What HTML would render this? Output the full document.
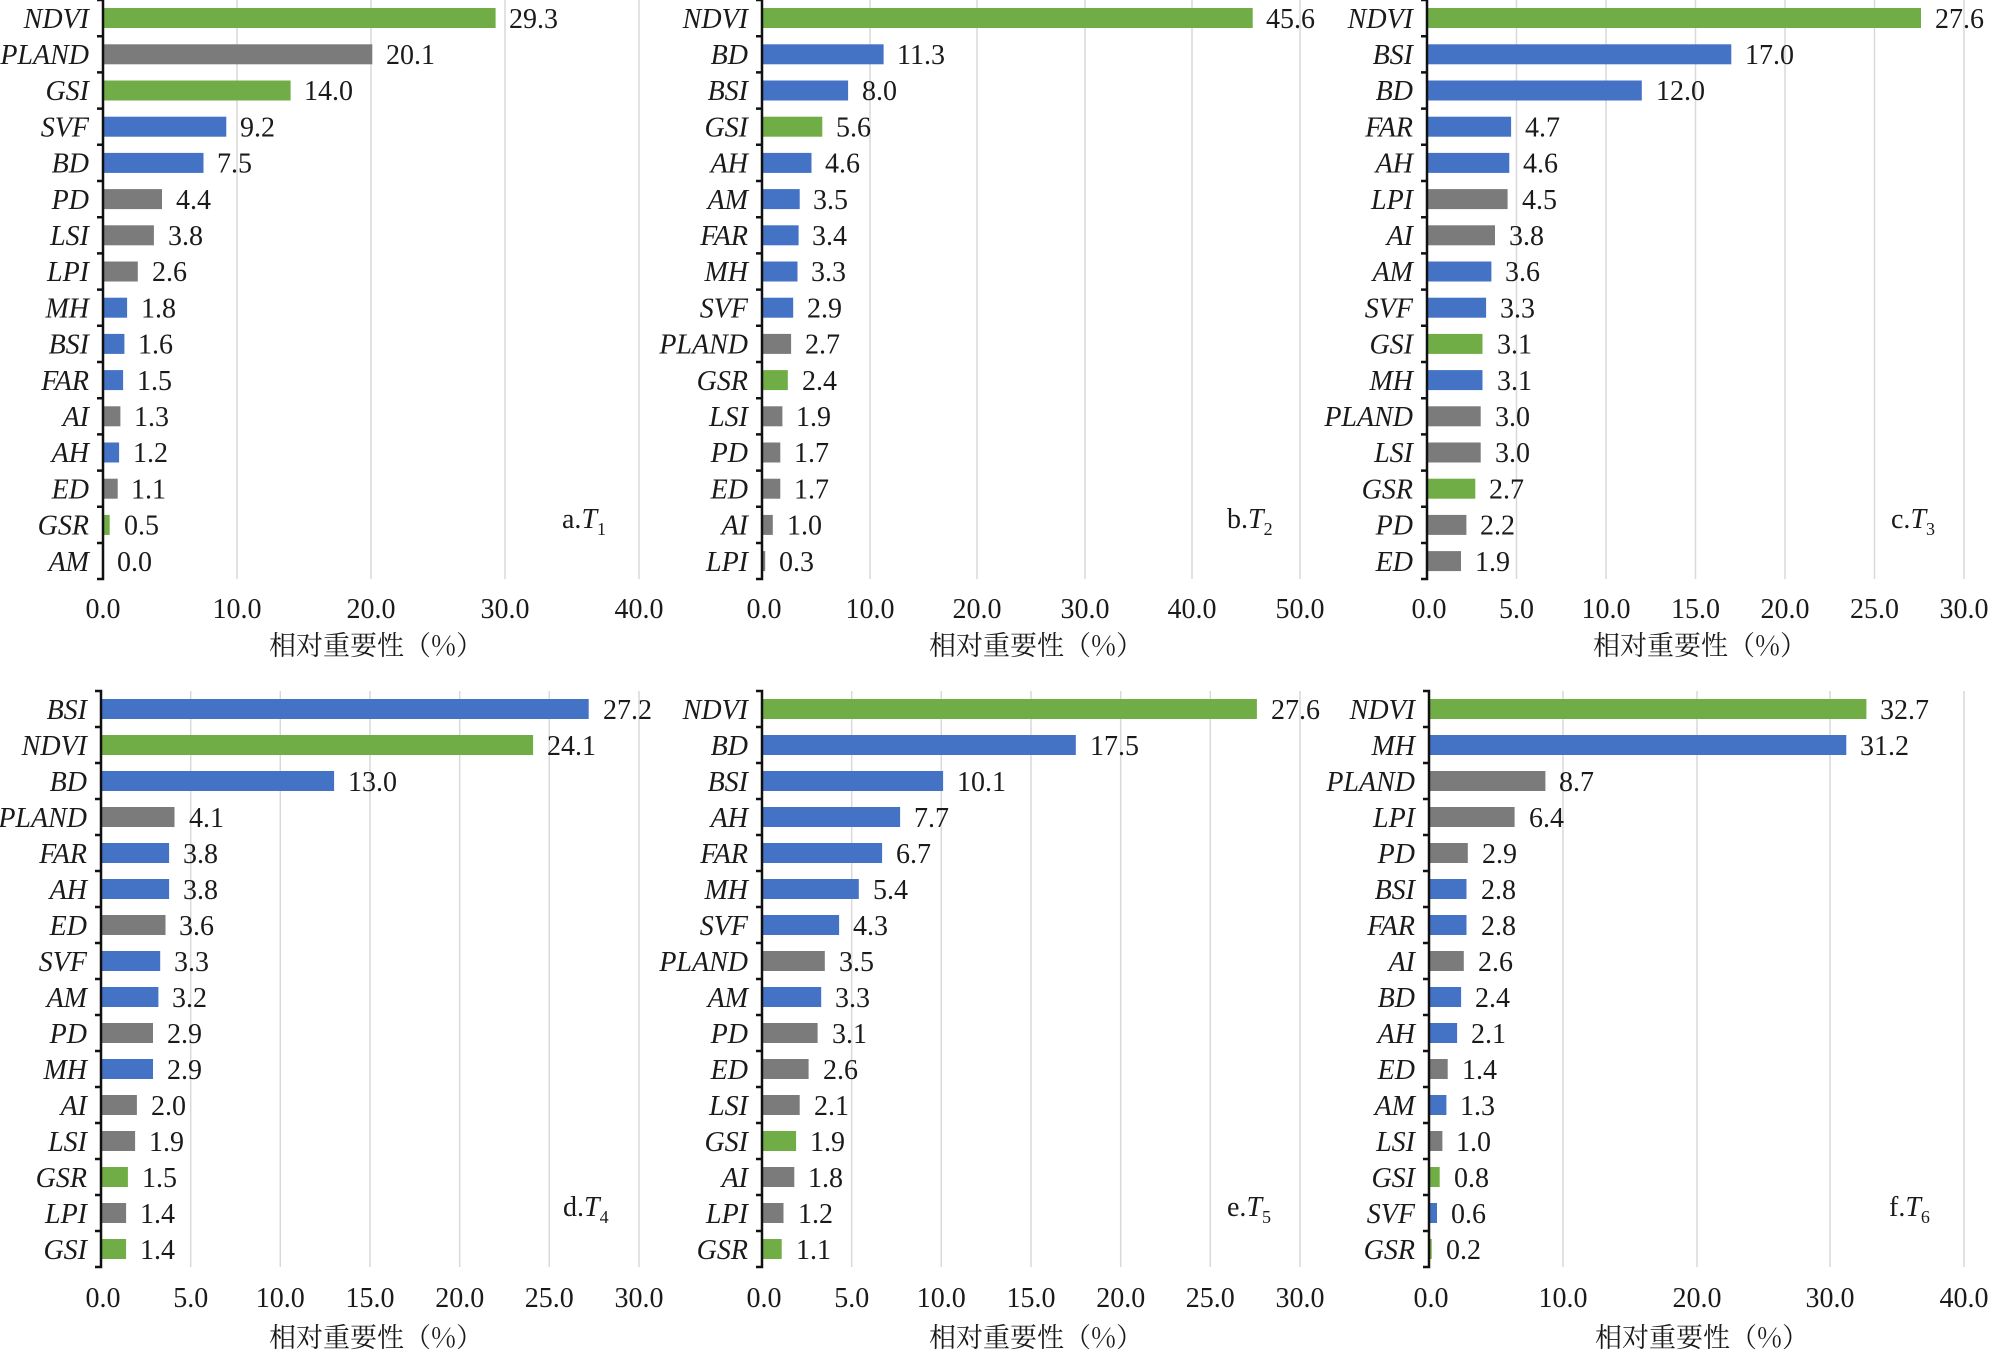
<!DOCTYPE html>
<html><head><meta charset="utf-8"><style>
html,body{margin:0;padding:0;background:#fff;}
svg{display:block}
text{font-family:"Liberation Serif","Noto Serif CJK SC",serif;font-size:28px;fill:#1a1a1a}
.c{font-style:italic;text-anchor:end}
.t{text-anchor:middle}
.g{fill:#70ad47}.b{fill:#4472c4}.k{fill:#7b7b7b}
.gr{stroke:#d9d9d9;stroke-width:1.5}
.ax{stroke:#111;stroke-width:2.5;fill:none}
.ti{font-family:"Noto Serif CJK SC","Liberation Serif",serif;font-size:27px;text-anchor:middle}
</style></head><body>
<svg width="1997" height="1355" viewBox="0 0 1997 1355" xmlns="http://www.w3.org/2000/svg">

<!-- ===== Panel a ===== -->
<g>
<line class="gr" x1="237" y1="0" x2="237" y2="579"/><line class="gr" x1="371" y1="0" x2="371" y2="579"/><line class="gr" x1="505" y1="0" x2="505" y2="579"/><line class="gr" x1="639" y1="0" x2="639" y2="579"/>
<g transform="translate(103,0)">
<rect class="g" x="0" y="8" width="392.6" height="20"/><text x="406" y="28">29.3</text><text class="c" x="-14" y="28">NDVI</text>
<rect class="k" x="0" y="44.3" width="269.3" height="20"/><text x="283" y="64">20.1</text><text class="c" x="-14" y="64">PLAND</text>
<rect class="g" x="0" y="80.5" width="187.6" height="20"/><text x="201" y="100">14.0</text><text class="c" x="-14" y="100">GSI</text>
<rect class="b" x="0" y="116.7" width="123.3" height="20"/><text x="137" y="136.5">9.2</text><text class="c" x="-14" y="136.5">SVF</text>
<rect class="b" x="0" y="152.9" width="100.5" height="20"/><text x="114" y="172.5">7.5</text><text class="c" x="-14" y="172.5">BD</text>
<rect class="k" x="0" y="189.1" width="59" height="20"/><text x="73" y="209">4.4</text><text class="c" x="-14" y="209">PD</text>
<rect class="k" x="0" y="225.3" width="50.9" height="20"/><text x="65" y="245">3.8</text><text class="c" x="-14" y="245">LSI</text>
<rect class="k" x="0" y="261.5" width="34.8" height="20"/><text x="49" y="281">2.6</text><text class="c" x="-14" y="281">LPI</text>
<rect class="b" x="0" y="297.7" width="24.1" height="20"/><text x="38" y="317.5">1.8</text><text class="c" x="-14" y="317.5">MH</text>
<rect class="b" x="0" y="333.9" width="21.4" height="20"/><text x="35" y="353.5">1.6</text><text class="c" x="-14" y="353.5">BSI</text>
<rect class="b" x="0" y="370.1" width="20.1" height="20"/><text x="34" y="390">1.5</text><text class="c" x="-14" y="390">FAR</text>
<rect class="k" x="0" y="406.3" width="17.4" height="20"/><text x="31" y="426">1.3</text><text class="c" x="-14" y="426">AI</text>
<rect class="b" x="0" y="442.5" width="16.1" height="20"/><text x="30" y="462">1.2</text><text class="c" x="-14" y="462">AH</text>
<rect class="k" x="0" y="478.7" width="14.7" height="20"/><text x="28" y="498.5">1.1</text><text class="c" x="-14" y="498.5">ED</text>
<rect class="g" x="0" y="514.9" width="6.7" height="20"/><text x="21" y="534.5">0.5</text><text class="c" x="-14" y="534.5">GSR</text>
<text x="14" y="571">0.0</text><text class="c" x="-14" y="571">AM</text>
<path class="ax" d="M-6,0H0V579H-6 M-6,36.2H0 M-6,72.4H0 M-6,108.6H0 M-6,144.8H0 M-6,181H0 M-6,217.2H0 M-6,253.4H0 M-6,289.6H0 M-6,325.8H0 M-6,362H0 M-6,398.2H0 M-6,434.4H0 M-6,470.6H0 M-6,506.8H0 M-6,543H0"/>
</g>
<text class="t" x="103" y="618">0.0</text><text class="t" x="237" y="618">10.0</text><text class="t" x="371" y="618">20.0</text><text class="t" x="505" y="618">30.0</text><text class="t" x="639" y="618">40.0</text>
<text class="ti" x="376" y="655">相对重要性（%）</text>
<text x="562" y="528">a.<tspan font-style="italic">T</tspan><tspan font-size="18" dy="7">1</tspan></text>
</g>

<!-- ===== Panel b ===== -->
<g>
<line class="gr" x1="870" y1="0" x2="870" y2="579"/><line class="gr" x1="977" y1="0" x2="977" y2="579"/><line class="gr" x1="1085" y1="0" x2="1085" y2="579"/><line class="gr" x1="1192" y1="0" x2="1192" y2="579"/><line class="gr" x1="1300" y1="0" x2="1300" y2="579"/>
<g transform="translate(762,0)">
<rect class="g" x="0" y="8" width="490.7" height="20"/><text x="504" y="28">45.6</text><text class="c" x="-14" y="28">NDVI</text>
<rect class="b" x="0" y="44.3" width="121.6" height="20"/><text x="135" y="64">11.3</text><text class="c" x="-14" y="64">BD</text>
<rect class="b" x="0" y="80.5" width="86.1" height="20"/><text x="100" y="100">8.0</text><text class="c" x="-14" y="100">BSI</text>
<rect class="g" x="0" y="116.7" width="60.3" height="20"/><text x="74" y="136.5">5.6</text><text class="c" x="-14" y="136.5">GSI</text>
<rect class="b" x="0" y="152.9" width="49.5" height="20"/><text x="63" y="172.5">4.6</text><text class="c" x="-14" y="172.5">AH</text>
<rect class="b" x="0" y="189.1" width="37.7" height="20"/><text x="51" y="209">3.5</text><text class="c" x="-14" y="209">AM</text>
<rect class="b" x="0" y="225.3" width="36.6" height="20"/><text x="50" y="245">3.4</text><text class="c" x="-14" y="245">FAR</text>
<rect class="b" x="0" y="261.5" width="35.5" height="20"/><text x="49" y="281">3.3</text><text class="c" x="-14" y="281">MH</text>
<rect class="b" x="0" y="297.7" width="31.2" height="20"/><text x="45" y="317.5">2.9</text><text class="c" x="-14" y="317.5">SVF</text>
<rect class="k" x="0" y="333.9" width="29.1" height="20"/><text x="43" y="353.5">2.7</text><text class="c" x="-14" y="353.5">PLAND</text>
<rect class="g" x="0" y="370.1" width="25.8" height="20"/><text x="40" y="390">2.4</text><text class="c" x="-14" y="390">GSR</text>
<rect class="k" x="0" y="406.3" width="20.4" height="20"/><text x="34" y="426">1.9</text><text class="c" x="-14" y="426">LSI</text>
<rect class="k" x="0" y="442.5" width="18.3" height="20"/><text x="32" y="462">1.7</text><text class="c" x="-14" y="462">PD</text>
<rect class="k" x="0" y="478.7" width="18.3" height="20"/><text x="32" y="498.5">1.7</text><text class="c" x="-14" y="498.5">ED</text>
<rect class="k" x="0" y="514.9" width="10.8" height="20"/><text x="25" y="534.5">1.0</text><text class="c" x="-14" y="534.5">AI</text>
<rect class="k" x="0" y="551.1" width="3.2" height="20"/><text x="17" y="571">0.3</text><text class="c" x="-14" y="571">LPI</text>
<path class="ax" d="M-6,0H0V579H-6 M-6,36.2H0 M-6,72.4H0 M-6,108.6H0 M-6,144.8H0 M-6,181H0 M-6,217.2H0 M-6,253.4H0 M-6,289.6H0 M-6,325.8H0 M-6,362H0 M-6,398.2H0 M-6,434.4H0 M-6,470.6H0 M-6,506.8H0 M-6,543H0"/>
</g>
<text class="t" x="764" y="618">0.0</text><text class="t" x="870" y="618">10.0</text><text class="t" x="977" y="618">20.0</text><text class="t" x="1085" y="618">30.0</text><text class="t" x="1192" y="618">40.0</text><text class="t" x="1300" y="618">50.0</text>
<text class="ti" x="1036" y="655">相对重要性（%）</text>
<text x="1227" y="528">b.<tspan font-style="italic">T</tspan><tspan font-size="18" dy="7">2</tspan></text>
</g>

<!-- ===== Panel c ===== -->
<g>
<line class="gr" x1="1516.5" y1="0" x2="1516.5" y2="579"/><line class="gr" x1="1606" y1="0" x2="1606" y2="579"/><line class="gr" x1="1695.5" y1="0" x2="1695.5" y2="579"/><line class="gr" x1="1785" y1="0" x2="1785" y2="579"/><line class="gr" x1="1874.5" y1="0" x2="1874.5" y2="579"/><line class="gr" x1="1964" y1="0" x2="1964" y2="579"/>
<g transform="translate(1427,0)">
<rect class="g" x="0" y="8" width="494" height="20"/><text x="508" y="28">27.6</text><text class="c" x="-14" y="28">NDVI</text>
<rect class="b" x="0" y="44.3" width="304.3" height="20"/><text x="318" y="64">17.0</text><text class="c" x="-14" y="64">BSI</text>
<rect class="b" x="0" y="80.5" width="214.8" height="20"/><text x="229" y="100">12.0</text><text class="c" x="-14" y="100">BD</text>
<rect class="b" x="0" y="116.7" width="84.1" height="20"/><text x="98" y="136.5">4.7</text><text class="c" x="-14" y="136.5">FAR</text>
<rect class="b" x="0" y="152.9" width="82.3" height="20"/><text x="96" y="172.5">4.6</text><text class="c" x="-14" y="172.5">AH</text>
<rect class="k" x="0" y="189.1" width="80.6" height="20"/><text x="95" y="209">4.5</text><text class="c" x="-14" y="209">LPI</text>
<rect class="k" x="0" y="225.3" width="68" height="20"/><text x="82" y="245">3.8</text><text class="c" x="-14" y="245">AI</text>
<rect class="b" x="0" y="261.5" width="64.4" height="20"/><text x="78" y="281">3.6</text><text class="c" x="-14" y="281">AM</text>
<rect class="b" x="0" y="297.7" width="59.1" height="20"/><text x="73" y="317.5">3.3</text><text class="c" x="-14" y="317.5">SVF</text>
<rect class="g" x="0" y="333.9" width="55.5" height="20"/><text x="70" y="353.5">3.1</text><text class="c" x="-14" y="353.5">GSI</text>
<rect class="b" x="0" y="370.1" width="55.5" height="20"/><text x="70" y="390">3.1</text><text class="c" x="-14" y="390">MH</text>
<rect class="k" x="0" y="406.3" width="53.7" height="20"/><text x="68" y="426">3.0</text><text class="c" x="-14" y="426">PLAND</text>
<rect class="k" x="0" y="442.5" width="53.7" height="20"/><text x="68" y="462">3.0</text><text class="c" x="-14" y="462">LSI</text>
<rect class="g" x="0" y="478.7" width="48.3" height="20"/><text x="62" y="498.5">2.7</text><text class="c" x="-14" y="498.5">GSR</text>
<rect class="k" x="0" y="514.9" width="39.4" height="20"/><text x="53" y="534.5">2.2</text><text class="c" x="-14" y="534.5">PD</text>
<rect class="k" x="0" y="551.1" width="34" height="20"/><text x="48" y="571">1.9</text><text class="c" x="-14" y="571">ED</text>
<path class="ax" d="M-6,0H0V579H-6 M-6,36.2H0 M-6,72.4H0 M-6,108.6H0 M-6,144.8H0 M-6,181H0 M-6,217.2H0 M-6,253.4H0 M-6,289.6H0 M-6,325.8H0 M-6,362H0 M-6,398.2H0 M-6,434.4H0 M-6,470.6H0 M-6,506.8H0 M-6,543H0"/>
</g>
<text class="t" x="1429" y="618">0.0</text><text class="t" x="1516.5" y="618">5.0</text><text class="t" x="1606" y="618">10.0</text><text class="t" x="1695.5" y="618">15.0</text><text class="t" x="1785" y="618">20.0</text><text class="t" x="1874.5" y="618">25.0</text><text class="t" x="1964" y="618">30.0</text>
<text class="ti" x="1700" y="655">相对重要性（%）</text>
<text x="1891" y="528">c.<tspan font-style="italic">T</tspan><tspan font-size="18" dy="7">3</tspan></text>
</g>

<!-- ===== Panel d ===== -->
<g>
<line class="gr" x1="190.7" y1="691" x2="190.7" y2="1267"/><line class="gr" x1="280.3" y1="691" x2="280.3" y2="1267"/><line class="gr" x1="370" y1="691" x2="370" y2="1267"/><line class="gr" x1="459.7" y1="691" x2="459.7" y2="1267"/><line class="gr" x1="549.3" y1="691" x2="549.3" y2="1267"/><line class="gr" x1="639" y1="691" x2="639" y2="1267"/>
<g transform="translate(101,691)">
<rect class="b" x="0" y="8" width="487.7" height="20"/><text x="502" y="28">27.2</text><text class="c" x="-14" y="28">BSI</text>
<rect class="g" x="0" y="44" width="432.1" height="20"/><text x="446" y="64">24.1</text><text class="c" x="-14" y="64">NDVI</text>
<rect class="b" x="0" y="80" width="233.1" height="20"/><text x="247" y="100">13.0</text><text class="c" x="-14" y="100">BD</text>
<rect class="k" x="0" y="116" width="73.5" height="20"/><text x="88" y="136">4.1</text><text class="c" x="-14" y="136">PLAND</text>
<rect class="b" x="0" y="152" width="68.1" height="20"/><text x="82" y="172">3.8</text><text class="c" x="-14" y="172">FAR</text>
<rect class="b" x="0" y="188" width="68.1" height="20"/><text x="82" y="208">3.8</text><text class="c" x="-14" y="208">AH</text>
<rect class="k" x="0" y="224" width="64.5" height="20"/><text x="78" y="244">3.6</text><text class="c" x="-14" y="244">ED</text>
<rect class="b" x="0" y="260" width="59.2" height="20"/><text x="73" y="280">3.3</text><text class="c" x="-14" y="280">SVF</text>
<rect class="b" x="0" y="296" width="57.4" height="20"/><text x="71" y="316">3.2</text><text class="c" x="-14" y="316">AM</text>
<rect class="k" x="0" y="332" width="52" height="20"/><text x="66" y="352">2.9</text><text class="c" x="-14" y="352">PD</text>
<rect class="b" x="0" y="368" width="52" height="20"/><text x="66" y="388">2.9</text><text class="c" x="-14" y="388">MH</text>
<rect class="k" x="0" y="404" width="35.9" height="20"/><text x="50" y="424">2.0</text><text class="c" x="-14" y="424">AI</text>
<rect class="k" x="0" y="440" width="34.1" height="20"/><text x="48" y="460">1.9</text><text class="c" x="-14" y="460">LSI</text>
<rect class="g" x="0" y="476" width="26.9" height="20"/><text x="41" y="496">1.5</text><text class="c" x="-14" y="496">GSR</text>
<rect class="k" x="0" y="512" width="25.1" height="20"/><text x="39" y="532">1.4</text><text class="c" x="-14" y="532">LPI</text>
<rect class="g" x="0" y="548" width="25.1" height="20"/><text x="39" y="568">1.4</text><text class="c" x="-14" y="568">GSI</text>
<path class="ax" d="M-6,0H0V576H-6 M-6,36H0 M-6,72H0 M-6,108H0 M-6,144H0 M-6,180H0 M-6,216H0 M-6,252H0 M-6,288H0 M-6,324H0 M-6,360H0 M-6,396H0 M-6,432H0 M-6,468H0 M-6,504H0 M-6,540H0"/>
</g>
<text class="t" x="103" y="1307">0.0</text><text class="t" x="190.7" y="1307">5.0</text><text class="t" x="280.3" y="1307">10.0</text><text class="t" x="370" y="1307">15.0</text><text class="t" x="459.7" y="1307">20.0</text><text class="t" x="549.3" y="1307">25.0</text><text class="t" x="639" y="1307">30.0</text>
<text class="ti" x="376" y="1347">相对重要性（%）</text>
<text x="563" y="1216">d.<tspan font-style="italic">T</tspan><tspan font-size="18" dy="7">4</tspan></text>
</g>

<!-- ===== Panel e ===== -->
<g>
<line class="gr" x1="851.7" y1="691" x2="851.7" y2="1267"/><line class="gr" x1="941.3" y1="691" x2="941.3" y2="1267"/><line class="gr" x1="1031" y1="691" x2="1031" y2="1267"/><line class="gr" x1="1120.7" y1="691" x2="1120.7" y2="1267"/><line class="gr" x1="1210.3" y1="691" x2="1210.3" y2="1267"/><line class="gr" x1="1300" y1="691" x2="1300" y2="1267"/>
<g transform="translate(762,691)">
<rect class="g" x="0" y="8" width="494.9" height="20"/><text x="509" y="28">27.6</text><text class="c" x="-14" y="28">NDVI</text>
<rect class="b" x="0" y="44" width="313.8" height="20"/><text x="328" y="64">17.5</text><text class="c" x="-14" y="64">BD</text>
<rect class="b" x="0" y="80" width="181.1" height="20"/><text x="195" y="100">10.1</text><text class="c" x="-14" y="100">BSI</text>
<rect class="b" x="0" y="116" width="138.1" height="20"/><text x="152" y="136">7.7</text><text class="c" x="-14" y="136">AH</text>
<rect class="b" x="0" y="152" width="120.1" height="20"/><text x="134" y="172">6.7</text><text class="c" x="-14" y="172">FAR</text>
<rect class="b" x="0" y="188" width="96.8" height="20"/><text x="111" y="208">5.4</text><text class="c" x="-14" y="208">MH</text>
<rect class="b" x="0" y="224" width="77.1" height="20"/><text x="91" y="244">4.3</text><text class="c" x="-14" y="244">SVF</text>
<rect class="k" x="0" y="260" width="62.8" height="20"/><text x="77" y="280">3.5</text><text class="c" x="-14" y="280">PLAND</text>
<rect class="b" x="0" y="296" width="59.2" height="20"/><text x="73" y="316">3.3</text><text class="c" x="-14" y="316">AM</text>
<rect class="k" x="0" y="332" width="55.6" height="20"/><text x="70" y="352">3.1</text><text class="c" x="-14" y="352">PD</text>
<rect class="k" x="0" y="368" width="46.6" height="20"/><text x="61" y="388">2.6</text><text class="c" x="-14" y="388">ED</text>
<rect class="k" x="0" y="404" width="37.7" height="20"/><text x="52" y="424">2.1</text><text class="c" x="-14" y="424">LSI</text>
<rect class="g" x="0" y="440" width="34.1" height="20"/><text x="48" y="460">1.9</text><text class="c" x="-14" y="460">GSI</text>
<rect class="k" x="0" y="476" width="32.3" height="20"/><text x="46" y="496">1.8</text><text class="c" x="-14" y="496">AI</text>
<rect class="k" x="0" y="512" width="21.5" height="20"/><text x="36" y="532">1.2</text><text class="c" x="-14" y="532">LPI</text>
<rect class="g" x="0" y="548" width="19.7" height="20"/><text x="34" y="568">1.1</text><text class="c" x="-14" y="568">GSR</text>
<path class="ax" d="M-6,0H0V576H-6 M-6,36H0 M-6,72H0 M-6,108H0 M-6,144H0 M-6,180H0 M-6,216H0 M-6,252H0 M-6,288H0 M-6,324H0 M-6,360H0 M-6,396H0 M-6,432H0 M-6,468H0 M-6,504H0 M-6,540H0"/>
</g>
<text class="t" x="764" y="1307">0.0</text><text class="t" x="851.7" y="1307">5.0</text><text class="t" x="941.3" y="1307">10.0</text><text class="t" x="1031" y="1307">15.0</text><text class="t" x="1120.7" y="1307">20.0</text><text class="t" x="1210.3" y="1307">25.0</text><text class="t" x="1300" y="1307">30.0</text>
<text class="ti" x="1036" y="1347">相对重要性（%）</text>
<text x="1227" y="1216">e.<tspan font-style="italic">T</tspan><tspan font-size="18" dy="7">5</tspan></text>
</g>

<!-- ===== Panel f ===== -->
<g>
<line class="gr" x1="1563" y1="691" x2="1563" y2="1267"/><line class="gr" x1="1697" y1="691" x2="1697" y2="1267"/><line class="gr" x1="1830" y1="691" x2="1830" y2="1267"/><line class="gr" x1="1964" y1="691" x2="1964" y2="1267"/>
<g transform="translate(1429,691)">
<rect class="g" x="0" y="8" width="437.4" height="20"/><text x="451" y="28">32.7</text><text class="c" x="-14" y="28">NDVI</text>
<rect class="b" x="0" y="44" width="417.3" height="20"/><text x="431" y="64">31.2</text><text class="c" x="-14" y="64">MH</text>
<rect class="k" x="0" y="80" width="116.4" height="20"/><text x="130" y="100">8.7</text><text class="c" x="-14" y="100">PLAND</text>
<rect class="k" x="0" y="116" width="85.6" height="20"/><text x="100" y="136">6.4</text><text class="c" x="-14" y="136">LPI</text>
<rect class="k" x="0" y="152" width="38.8" height="20"/><text x="53" y="172">2.9</text><text class="c" x="-14" y="172">PD</text>
<rect class="b" x="0" y="188" width="37.5" height="20"/><text x="52" y="208">2.8</text><text class="c" x="-14" y="208">BSI</text>
<rect class="b" x="0" y="224" width="37.5" height="20"/><text x="52" y="244">2.8</text><text class="c" x="-14" y="244">FAR</text>
<rect class="k" x="0" y="260" width="34.8" height="20"/><text x="49" y="280">2.6</text><text class="c" x="-14" y="280">AI</text>
<rect class="b" x="0" y="296" width="32.1" height="20"/><text x="46" y="316">2.4</text><text class="c" x="-14" y="316">BD</text>
<rect class="b" x="0" y="332" width="28.1" height="20"/><text x="42" y="352">2.1</text><text class="c" x="-14" y="352">AH</text>
<rect class="k" x="0" y="368" width="18.7" height="20"/><text x="33" y="388">1.4</text><text class="c" x="-14" y="388">ED</text>
<rect class="b" x="0" y="404" width="17.4" height="20"/><text x="31" y="424">1.3</text><text class="c" x="-14" y="424">AM</text>
<rect class="k" x="0" y="440" width="13.4" height="20"/><text x="27" y="460">1.0</text><text class="c" x="-14" y="460">LSI</text>
<rect class="g" x="0" y="476" width="10.7" height="20"/><text x="25" y="496">0.8</text><text class="c" x="-14" y="496">GSI</text>
<rect class="b" x="0" y="512" width="8" height="20"/><text x="22" y="532">0.6</text><text class="c" x="-14" y="532">SVF</text>
<rect class="g" x="0" y="548" width="2.7" height="20"/><text x="17" y="568">0.2</text><text class="c" x="-14" y="568">GSR</text>
<path class="ax" d="M-6,0H0V576H-6 M-6,36H0 M-6,72H0 M-6,108H0 M-6,144H0 M-6,180H0 M-6,216H0 M-6,252H0 M-6,288H0 M-6,324H0 M-6,360H0 M-6,396H0 M-6,432H0 M-6,468H0 M-6,504H0 M-6,540H0"/>
</g>
<text class="t" x="1431" y="1307">0.0</text><text class="t" x="1563" y="1307">10.0</text><text class="t" x="1697" y="1307">20.0</text><text class="t" x="1830" y="1307">30.0</text><text class="t" x="1964" y="1307">40.0</text>
<text class="ti" x="1702" y="1347">相对重要性（%）</text>
<text x="1889" y="1216">f.<tspan font-style="italic">T</tspan><tspan font-size="18" dy="7">6</tspan></text>
</g>
</svg>
</body></html>
